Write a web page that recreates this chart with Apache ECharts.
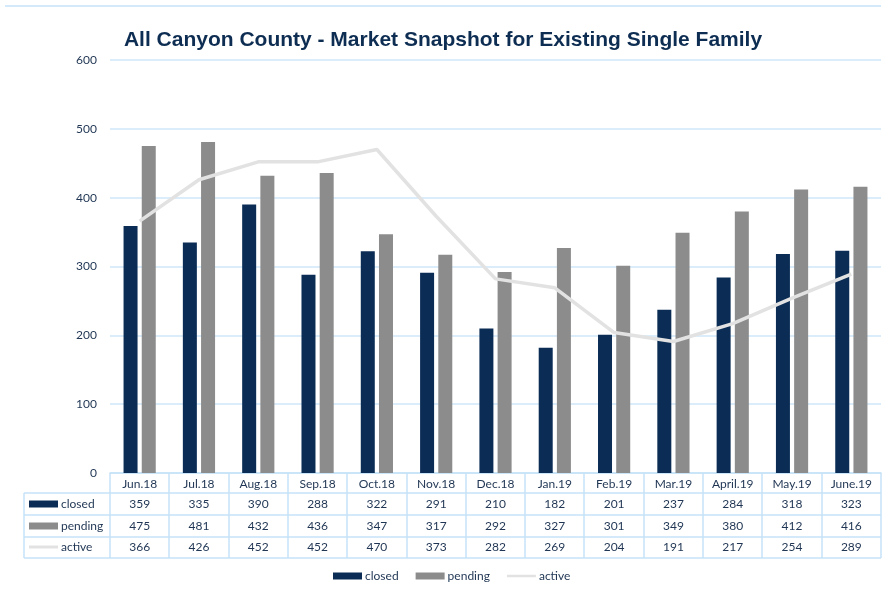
<!DOCTYPE html>
<html>
<head>
<meta charset="utf-8">
<script src="https://cdn.jsdelivr.net/npm/echarts@6/dist/echarts.min.js"></script>
<style>
  html, body { margin: 0; padding: 0; background: #fff; }
  #main { width: 886px; height: 597px; }
</style>
</head>
<body>
<div id="main"></div>
<script>
  // data
  var months = ['Jun.18', 'Jul.18', 'Aug.18', 'Sep.18', 'Oct.18', 'Nov.18', 'Dec.18',
                'Jan.19', 'Feb.19', 'Mar.19', 'April.19', 'May.19', 'June.19'];
  var closedData = [359, 335, 390, 288, 322, 291, 210, 182, 201, 237, 284, 318, 323];
  var pendingData = [475, 481, 432, 436, 347, 317, 292, 327, 301, 349, 380, 412, 416];
  var activeData = [366, 426, 452, 452, 470, 373, 282, 269, 204, 191, 217, 254, 289];
  var yTicks = [0, 100, 200, 300, 400, 500, 600];

  var cClosed = '#0b2d55', cPending = '#8c8c8c', cActive = '#e2e2e2';
  var cLine = '#c6e2f7', cText = '#1f3553';
  var font = 'Lato, "Liberation Sans", sans-serif';
  // thin bar inside a 0..7 box so the legend key looks like a line
  var lineIcon = 'path://M0,0L0.01,0L0,0.01Z M0,7L0.01,7L0,6.99Z M0,2.2L29,2.2L29,4.8L0,4.8Z';

  var myChart = echarts.init(document.getElementById('main'));

  myChart.setOption({
    animation: false,
    title: {
      text: 'All Canyon County - Market Snapshot for Existing Single Family',
      left: 'center',
      top: 25,
      textStyle: { fontFamily: '"Liberation Sans", Arial, sans-serif', fontWeight: 'bold', fontSize: 21, color: '#0e2d52' }
    },
    grid: { left: 110, right: 5, top: 60, bottom: 124 },
    legend: {
      bottom: 10,
      left: 328,
      itemWidth: 29,
      itemHeight: 7,
      itemGap: 17,
      textStyle: { fontFamily: font, fontSize: 12, color: cText, padding: [0, 0, 0, -2] },
      data: [
        { name: 'closed', icon: 'rect' },
        { name: 'pending', icon: 'rect' },
        { name: 'active', icon: lineIcon }
      ]
    },
    xAxis: {
      type: 'category',
      data: months,
      axisLine: { lineStyle: { color: cLine, width: 1.5 } },
      axisTick: { show: false },
      axisLabel: { margin: 5, fontFamily: font, fontSize: 12, color: cText }
    },
    yAxis: {
      type: 'value',
      min: yTicks[0], max: yTicks[yTicks.length - 1], interval: 100,
      axisLine: { show: false },
      axisTick: { show: false },
      axisLabel: { margin: 13, fontFamily: font, fontSize: 12, color: cText },
      splitLine: { lineStyle: { color: '#cfe7f8', width: 1.5 } }
    },
    series: [
      { name: 'closed', type: 'bar', data: closedData, barWidth: 14, barGap: '30%', itemStyle: { color: cClosed } },
      { name: 'pending', type: 'bar', data: pendingData, barWidth: 14, barGap: '30%', itemStyle: { color: cPending } },
      { name: 'active', type: 'line', data: activeData, symbol: 'none', z: 5,
        itemStyle: { color: cActive }, lineStyle: { color: cActive, width: 3.5 } }
    ]
  });

  // data table under the axis
  var rows = [
    { name: 'closed', values: closedData, y: 504 },
    { name: 'pending', values: pendingData, y: 526 },
    { name: 'active', values: activeData, y: 547 }
  ];
  var els = [];
  var xLeft = 24, xRight = 881, yTop = 473, yBot = 558;
  var ls = { stroke: cLine, lineWidth: 1.5 };
  els.push({ type: 'line', shape: { x1: 5, y1: 6, x2: xRight, y2: 6 }, style: ls });
  [493, 515, 537, 558].forEach(function (y) {
    els.push({ type: 'line', shape: { x1: xLeft, y1: y, x2: xRight, y2: y }, style: ls });
  });
  els.push({ type: 'line', shape: { x1: xLeft, y1: 493, x2: xLeft, y2: yBot }, style: ls });

  // vertical cell borders at category boundaries
  var p0 = myChart.convertToPixel({ xAxisIndex: 0 }, 0);
  var p1 = myChart.convertToPixel({ xAxisIndex: 0 }, 1);
  var half = (p1 - p0) / 2;
  for (var k = 0; k <= months.length; k++) {
    var bx = Math.round(p0 - half + k * 2 * half);
    els.push({ type: 'line', shape: { x1: bx, y1: yTop, x2: bx, y2: yBot }, style: ls });
  }

  rows.forEach(function (r) {
    if (r.name === 'active') {
      els.push({ type: 'line', shape: { x1: 29, y1: r.y, x2: 58, y2: r.y }, style: { stroke: cActive, lineWidth: 3 } });
    } else {
      els.push({ type: 'rect', shape: { x: 29, y: r.y - 3.5, width: 29, height: 7 },
        style: { fill: r.name === 'closed' ? cClosed : cPending } });
    }
    els.push({ type: 'text', x: 61, y: r.y,
      style: { text: r.name, fontFamily: font, fontSize: 12, fill: cText, verticalAlign: 'middle' } });
    for (var i = 0; i < r.values.length; i++) {
      var px = myChart.convertToPixel({ xAxisIndex: 0 }, i);
      els.push({ type: 'text', x: px, y: r.y,
        style: { text: String(r.values[i]), fontFamily: font, fontSize: 12, fill: cText, align: 'center', verticalAlign: 'middle' } });
    }
  });

  myChart.setOption({ graphic: { elements: els } });
</script>
</body>
</html>
